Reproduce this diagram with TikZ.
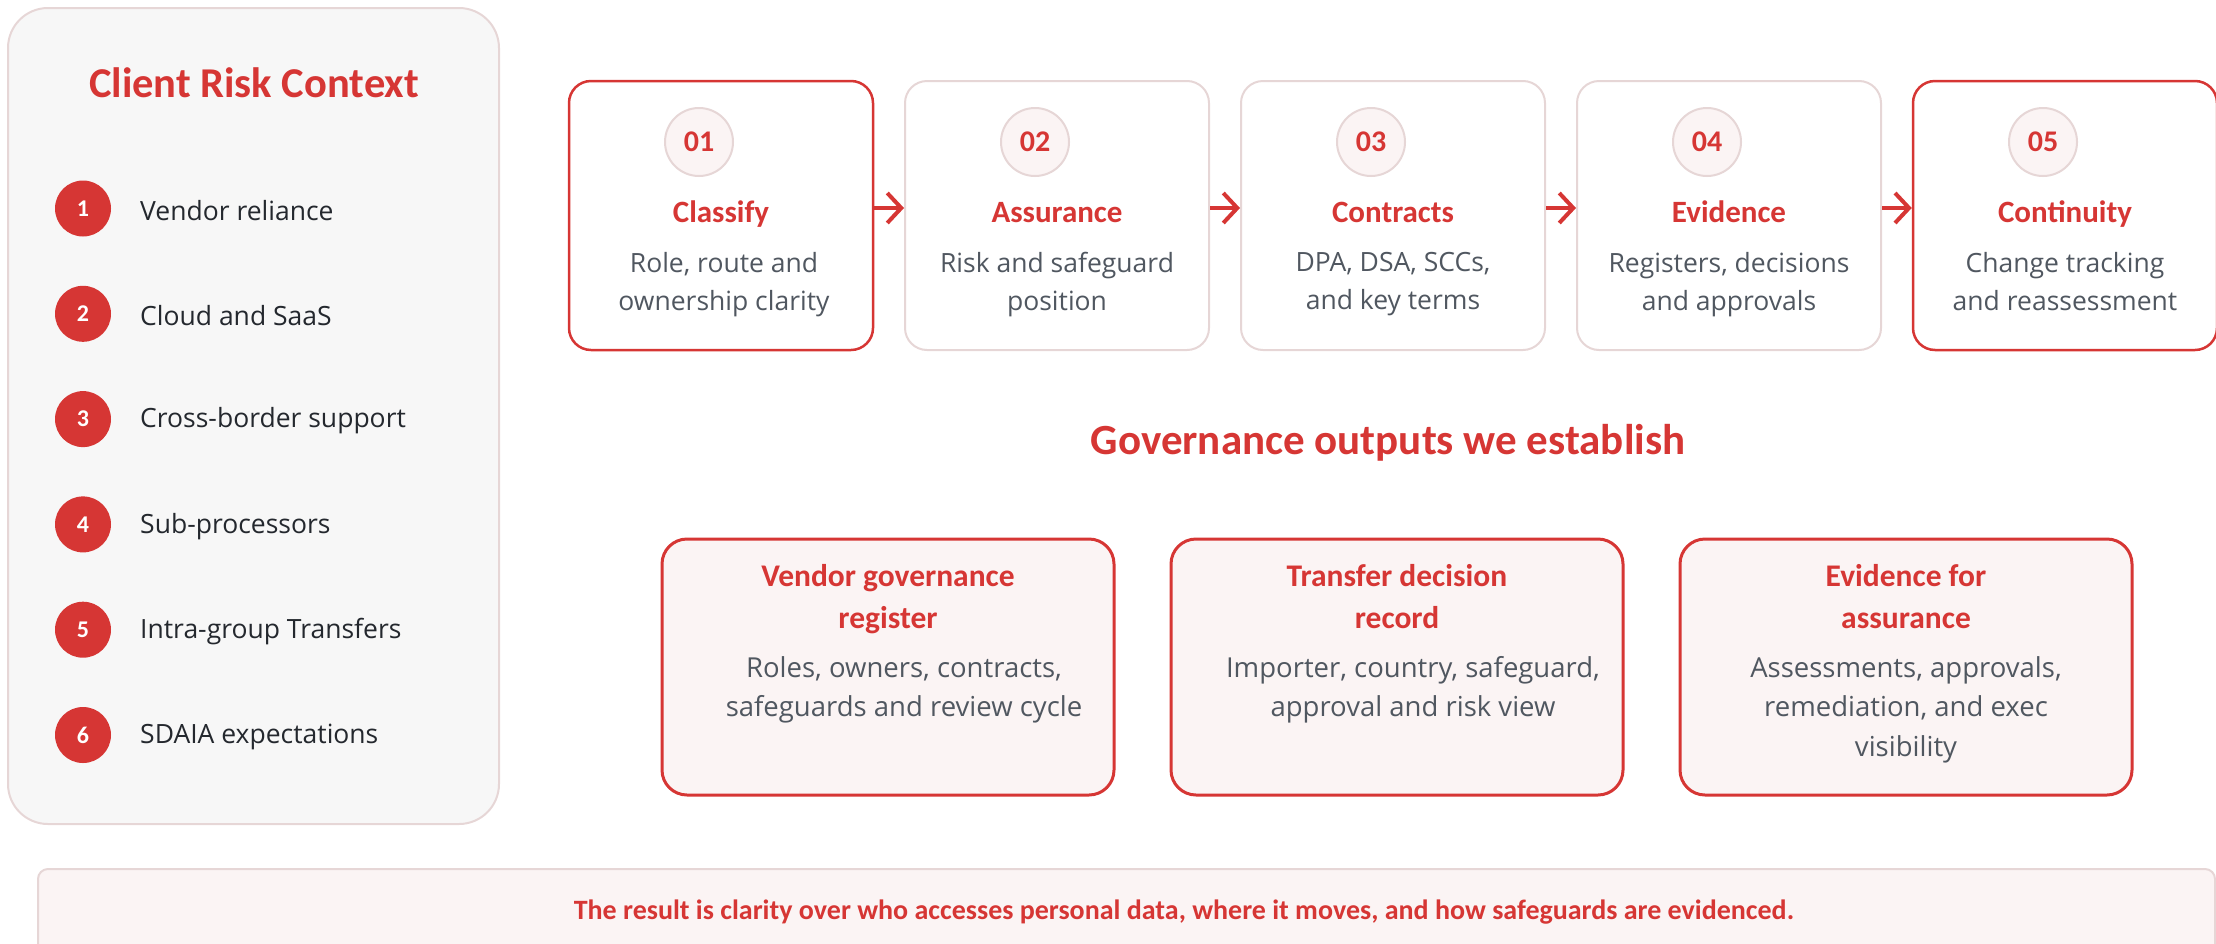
\documentclass[tikz,border=0pt]{standalone}
\usepackage{fontspec}
\setmainfont{Carlito}
\newfontfamily\bodyfont{Open Sans}
\usetikzlibrary{arrows.meta}

\definecolor{riskred}{RGB}{214,54,52}
\definecolor{softline}{RGB}{230,214,214}
\definecolor{panelgray}{RGB}{247,247,247}
\definecolor{blush}{RGB}{251,244,244}
\definecolor{inkdark}{RGB}{36,40,46}
\definecolor{slate}{RGB}{80,87,96}

\tikzset{
  panel/.style={draw=softline, line width=2pt, fill=panelgray, rounded corners=40pt},
  stepbox/.style={draw=softline, line width=2pt, fill=white, rounded corners=22pt,
    minimum width=304pt, minimum height=269pt, inner sep=0pt},
  keybox/.style={stepbox, draw=riskred, line width=2.5pt},
  outbox/.style={draw=riskred, line width=3pt, fill=blush, rounded corners=25pt,
    minimum width=452pt, minimum height=256pt, inner sep=0pt},
  banner/.style={draw=softline, line width=2pt, fill=blush, rounded corners=10pt},
  reddot/.style={circle, fill=riskred, minimum size=56pt, inner sep=0pt,
    text=white, font=\fontsize{24}{24}\selectfont\bfseries},
  numdisc/.style={circle, draw=softline, line width=2pt, fill=blush, minimum size=68pt,
    inner sep=0pt, text=riskred, font=\fontsize{30}{30}\selectfont\bfseries},
  itemtext/.style={anchor=west, inner sep=0pt, text=inkdark, font=\bodyfont\fontsize{26.5}{26.5}\selectfont},
  steptitle/.style={anchor=base, inner sep=0pt, text=riskred, font=\fontsize{31}{31}\selectfont\bfseries},
  stepbody/.style={anchor=north, inner sep=0pt, align=center, text=slate,
    font=\bodyfont\fontsize{26.5}{38}\selectfont},
  outbody/.style={stepbody, font=\bodyfont\fontsize{27.5}{39.5}\selectfont},
  outtitle/.style={anchor=north, inner sep=0pt, align=center, text=riskred,
    font=\fontsize{31.5}{42}\selectfont\bfseries},
  flow/.style={-{Straight Barb[length=14pt,width=30pt,line width=4pt]}, draw=riskred, line width=4pt}
}

\begin{document}
\begin{tikzpicture}[x=1pt,y=-1pt]
    \useasboundingbox (0,0) rectangle (2216,943);
    %% Left panel with the risk list
    \draw[panel] (8,8) rectangle (499,824);
    \node[text=riskred, font=\fontsize{42.5}{42.5}\selectfont\bfseries, anchor=base] (ctx) at (254,97) {Client Risk Context};
    \node[reddot] (r1) at (83,208.5) {1};
    \node[reddot] (r2) at (83,313.8) {2};
    \node[reddot] (r3) at (83,419.1) {3};
    \node[reddot] (r4) at (83,524.4) {4};
    \node[reddot] (r5) at (83,629.7) {5};
    \node[reddot] (r6) at (83,735) {6};
    \node[itemtext] (i1) at (140,210.5) {Vendor reliance};
    \node[itemtext] (i2) at (140,315.8) {Cloud and SaaS};
    \node[itemtext] (i3) at (140,421.1) {Cross-border support};
    \node[itemtext] (i4) at (140,526.4) {Sub-processors};
    \node[itemtext] (i5) at (140,631.7) {Intra-group Transfers};
    \node[itemtext] (i6) at (140,737) {SDAIA expectations};
    %% The five steps
    \node[keybox] (s1) at (721,215.5) {};
    \node[stepbox] (s2) at (1057,215.5) {};
    \node[stepbox] (s3) at (1393,215.5) {};
    \node[stepbox] (s4) at (1729,215.5) {};
    \node[keybox] (s5) at (2065,215.5) {};
    \node[numdisc] (n1) at (699,142) {01};
    \node[numdisc] (n2) at (1035,142) {02};
    \node[numdisc] (n3) at (1371,142) {03};
    \node[numdisc] (n4) at (1707,142) {04};
    \node[numdisc] (n5) at (2043,142) {05};
    \node[steptitle] (t1) at (721,222) {Classify};
    \node[steptitle] (t2) at (1057,222) {Assurance};
    \node[steptitle] (t3) at (1393,222) {Contracts};
    \node[steptitle] (t4) at (1729,222) {Evidence};
    \node[steptitle] (t5) at (2065,222) {Continuity};
    \node[stepbody] (b1) at (724,252) {Role, route and\\ownership clarity};
    \node[stepbody] (b2) at (1057,252) {Risk and safeguard\\position};
    \node[stepbody] (b3) at (1393,252) {DPA, DSA, SCCs,\\and key terms};
    \node[stepbody] (b4) at (1729,252) {Registers, decisions\\and approvals};
    \node[stepbody] (b5) at (2065,252) {Change tracking\\and reassessment};
    %% Draw the edges
    \begin{scope}[every path/.style={flow}]
      \draw ([yshift=7.5pt]s1.east) -- ([yshift=7.5pt]s2.west);
      \draw ([yshift=7.5pt]s2.east) -- ([yshift=7.5pt]s3.west);
      \draw ([yshift=7.5pt]s3.east) -- ([yshift=7.5pt]s4.west);
      \draw ([yshift=7.5pt]s4.east) -- ([yshift=7.5pt]s5.west);
    \end{scope}
    %% Governance outputs
    \node[text=riskred, font=\fontsize{43}{43}\selectfont\bfseries, anchor=base] (gov) at (1388,454) {Governance outputs we establish};
    \node[outbox] (o1) at (888,667) {};
    \node[outbox] (o2) at (1397,667) {};
    \node[outbox] (o3) at (1906,667) {};
    \node[outtitle] (ot1) at (888,564) {Vendor governance\\register};
    \node[outtitle] (ot2) at (1397,564) {Transfer decision\\record};
    \node[outtitle] (ot3) at (1906,564) {Evidence for\\assurance};
    \node[outbody] (ob1) at (904,656) {Roles, owners, contracts,\\safeguards and review cycle};
    \node[outbody] (ob2) at (1413,656) {Importer, country, safeguard,\\approval and risk view};
    \node[outbody] (ob3) at (1906,656) {Assessments, approvals,\\remediation, and exec\\visibility};
    %% Closing banner
    \draw[banner] (38,869) rectangle (2215,970);
    \node[text=riskred, font=\fontsize{28}{28}\selectfont\bfseries, anchor=base] (res) at (1184,919) {The result is clarity over who accesses personal data, where it moves, and how safeguards are evidenced.};
\end{tikzpicture}
\end{document}
